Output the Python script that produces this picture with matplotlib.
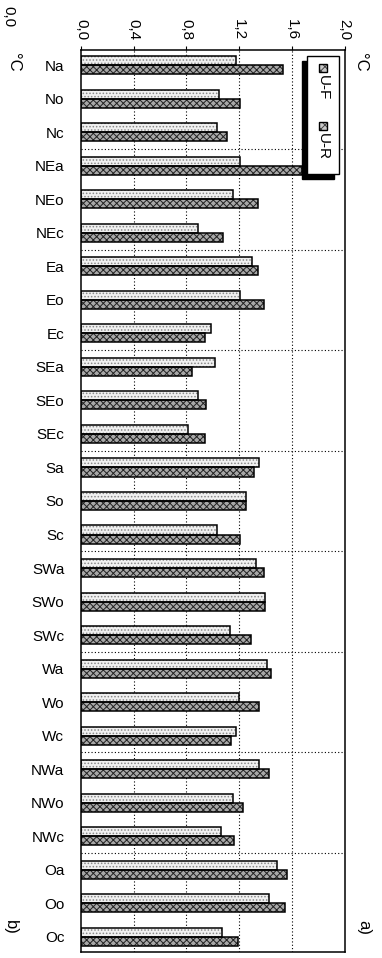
import matplotlib.pyplot as plt
import matplotlib.patches as mpatches
import numpy as np

plt.rcParams['font.family'] = ['Liberation Sans', 'DejaVu Sans']
plt.rcParams['hatch.linewidth'] = 0.7

regions = ['Na', 'No', 'Nc', 'NEa', 'NEo', 'NEc', 'Ea', 'Eo', 'Ec',
           'SEa', 'SEo', 'SEc', 'Sa', 'So', 'Sc', 'SWa', 'SWo', 'SWc',
           'Wa', 'Wo', 'Wc', 'NWa', 'NWo', 'NWc', 'Oa', 'Oo', 'Oc']
u_f = [1.18, 1.05, 1.03, 1.21, 1.15, 0.89, 1.30, 1.21, 0.99,
       1.02, 0.89, 0.81, 1.35, 1.25, 1.03, 1.33, 1.40, 1.13,
       1.41, 1.20, 1.18, 1.35, 1.15, 1.06, 1.49, 1.43, 1.07]
u_r = [1.53, 1.21, 1.11, 1.68, 1.34, 1.08, 1.34, 1.39, 0.94,
       0.84, 0.95, 0.94, 1.31, 1.25, 1.21, 1.39, 1.40, 1.29,
       1.44, 1.35, 1.14, 1.43, 1.23, 1.16, 1.56, 1.55, 1.19]
xticks = [0.0, 0.4, 0.8, 1.2, 1.6, 2.0]
xtick_labels = ['0,0', '0,4', '0,8', '1,2', '1,6', '2,0']

fig = plt.figure(figsize=(3.82, 9.58), dpi=100)
ax = fig.add_axes([0.212, 0.0063, 0.690, 0.9415])

y = np.arange(len(regions))
h = 0.27
# hatched fill first, black outline on top
ax.barh(y - h / 2, u_f, height=h, color='#f0f0f0', edgecolor='#888888',
        hatch='.....', linewidth=0)
ax.barh(y + h / 2, u_r, height=h, color='#a8a8a8', edgecolor='#222222',
        hatch='xxxxx', linewidth=0)
ax.barh(y - h / 2, u_f, height=h, fill=False, edgecolor='black', linewidth=1.1)
ax.barh(y + h / 2, u_r, height=h, fill=False, edgecolor='black', linewidth=1.1)

ax.set_xlim(0, 2.0)
ax.set_ylim(len(regions) - 0.55, -0.45)
ax.xaxis.tick_top()
ax.set_xticks(xticks)
ax.set_xticklabels(xtick_labels, rotation=-90, fontsize=11)
ax.tick_params(axis='x', length=3, pad=4)
ax.set_yticks(y)
ax.set_yticklabels(regions, fontsize=11)
ax.tick_params(axis='y', length=0, pad=12)

for v in xticks[1:-1]:
    ax.axvline(v, color='black', linestyle=(0, (1, 2)), linewidth=0.8, zorder=0)
for g in np.arange(2.5, len(regions) - 1, 3):
    ax.axhline(g, color='black', linestyle=(0, (1, 2)), linewidth=0.8, zorder=0)

for s in ax.spines.values():
    s.set_linewidth(1.1)

# legend box with drop shadow, text turned sideways
ax.add_patch(mpatches.Rectangle((0.839, 0.857), 0.121, 0.131, transform=ax.transAxes,
                                facecolor='black', edgecolor='black', zorder=5))
ax.add_patch(mpatches.Rectangle((0.858, 0.8625), 0.121, 0.131, transform=ax.transAxes,
                                facecolor='white', edgecolor='black', linewidth=1.0, zorder=6))
for yc, lab in [(0.980, 'U-F'), (0.916, 'U-R')]:
    ax.add_patch(mpatches.Rectangle((0.903, yc - 0.0045), 0.030, 0.009, transform=ax.transAxes,
                                    facecolor='#c8c8c8', edgecolor='#444444', hatch='xxxx',
                                    linewidth=0, zorder=7))
    ax.add_patch(mpatches.Rectangle((0.903, yc - 0.0045), 0.030, 0.009, transform=ax.transAxes,
                                    fill=False, edgecolor='black', linewidth=1.0, zorder=8))
    ax.text(0.918, yc - 0.0075, lab, transform=ax.transAxes, rotation=-90, fontsize=11,
            ha='center', va='top', zorder=9)

fig.text(0.945, 0.945, '°C', rotation=-90, fontsize=12, ha='center', va='top')
fig.text(0.035, 0.945, '°C', rotation=-90, fontsize=12, ha='center', va='top')
fig.text(0.952, 0.032, 'a)', rotation=-90, fontsize=12, ha='center', va='center')
fig.text(0.028, 0.032, 'b)', rotation=-90, fontsize=12, ha='center', va='center')
fig.text(0.004, 0.983, '0,0', rotation=-90, fontsize=11, ha='left', va='center')

fig.savefig('out.png', dpi=100)
